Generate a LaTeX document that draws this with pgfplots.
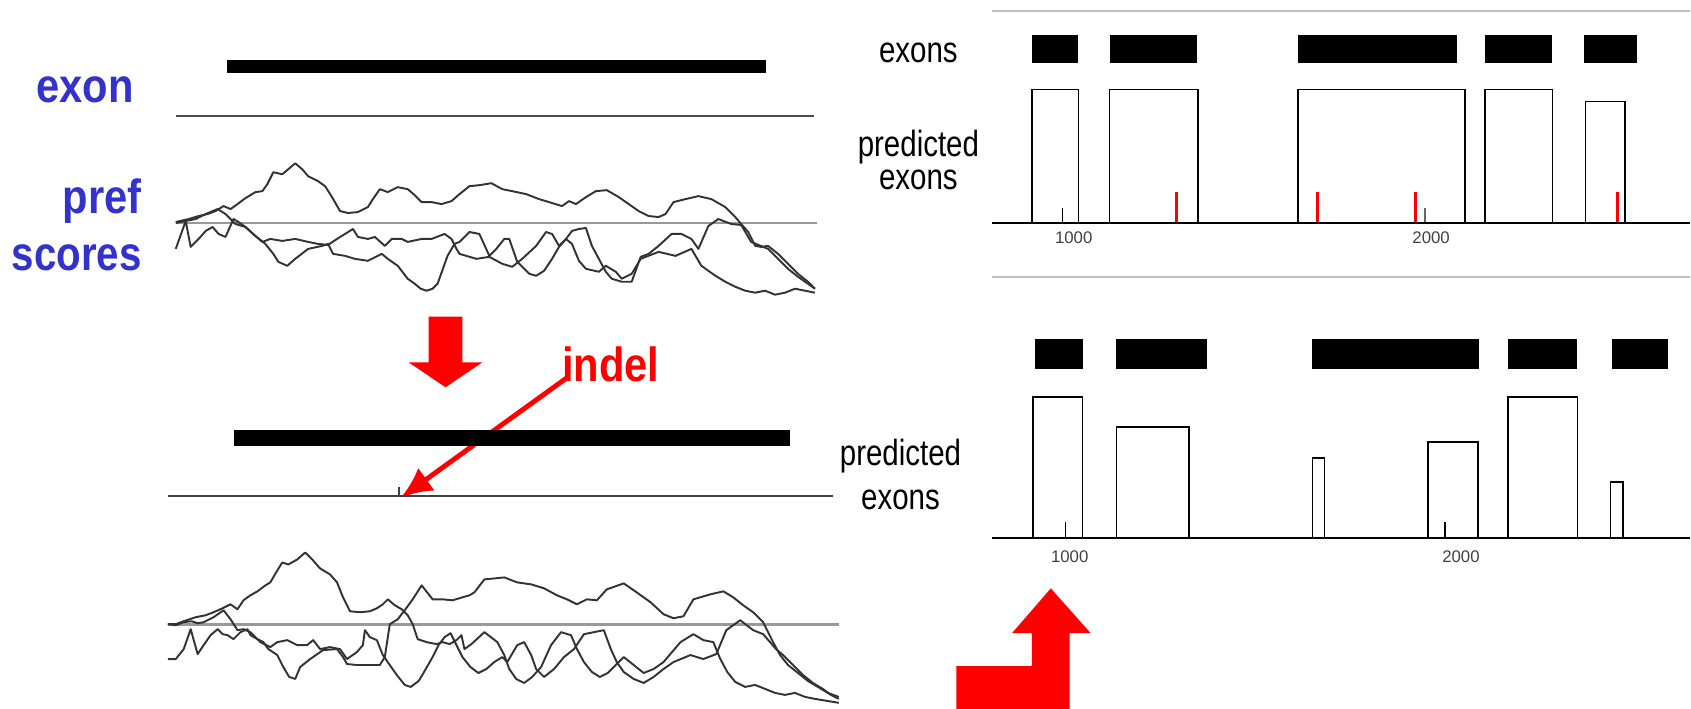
\documentclass[border=0pt]{standalone}
\usepackage{pgfplots}
\pgfplotsset{compat=1.18}
\usepackage{graphicx}
\usepackage{fontspec}
\setmainfont{Liberation Sans}
\usetikzlibrary{arrows.meta}
\definecolor{exblue}{RGB}{51,51,204}

\tikzset{
  curve/.style={black!80, line width=0.55pt, line join=round},
  slide/.style={font=\fontsize{13.7}{16}\selectfont\bfseries},
  small/.style={font=\fontsize{10.4}{12}\selectfont},
  ticklab/.style={font=\fontsize{4.8}{6}\selectfont, text=black!75},
}

% black exon bar: x1 x2 ytop ybottom
\newcommand{\exonbar}[4]{\addplot[fill=black, draw=none] coordinates {(#1,#3) (#2,#3) (#2,#4) (#1,#4)} -- cycle;}
% predicted exon box, open at the base line: x1 x2 top base
\newcommand{\predbox}[4]{\addplot[black, line width=0.45pt] coordinates {(#1,#4) (#1,#3) (#2,#3) (#2,#4)};}

\begin{document}
\begin{tikzpicture}
\begin{axis}[
    hide axis,
    scale only axis,
    width=16.91cm, height=7.12cm,
    xmin=0, xmax=1691, ymin=0, ymax=712,
    y dir=reverse,
    clip=false,
  ]
  % frame of the picture
  \addplot[draw=none] coordinates {(0,0) (1691,712)};

  % ---------- left, top panel ----------
  \exonbar{221}{763}{60}{73}
  \addplot[black!70, line width=0.6pt] coordinates {(170,116.5) (811,116.5)};
  \addplot[black!40, line width=0.8pt] coordinates {(170,224) (814,224)};

  \addplot[curve] coordinates {
    (170,223) (183,220) (193,217) (202,215) (210,212) (218,207) (225,210) (232,205)
    (240,199) (250,193) (257,192) (262,185) (268,173) (277,175) (283,170) (290,164)
    (297,170) (303,177) (313,182) (320,187) (327,198) (335,212) (343,214) (353,213)
    (363,208) (368,200) (375,190) (383,193) (393,188) (403,190) (410,196) (417,203)
    (427,203) (437,205) (447,202) (455,195) (465,187) (475,186) (487,184) (498,190)
    (508,192) (522,195) (535,200) (545,203) (558,207) (565,202) (572,205) (582,198)
    (592,192) (603,191) (615,198) (625,205) (635,212) (645,217) (655,218) (662,215)
    (670,203) (682,200) (695,197) (708,200) (722,208) (732,218) (738,225) (745,233)
    (752,247) (758,248) (765,247) (775,255) (785,265) (795,275) (805,283) (812,290)};
  \addplot[curve] coordinates {
    (170,250) (175,236) (180,222) (185,248) (193,240) (200,232) (207,228) (213,235)
    (220,238) (228,220) (233,223) (240,228) (250,237) (260,245) (268,255) (273,263)
    (282,267) (290,260) (303,250) (317,247) (323,245) (328,255) (340,257) (350,260)
    (363,262) (377,255) (383,260) (393,267) (403,280) (410,285) (416,290) (422,292)
    (428,290) (433,285) (443,257) (450,245) (455,243) (465,233) (475,235) (485,257)
    (492,250) (500,240) (505,240) (513,263) (525,275) (532,277) (540,272) (548,260)
    (555,248) (562,240) (568,232) (575,230) (582,229) (588,247) (595,260) (602,273)
    (608,280) (618,283) (628,283) (637,258) (645,255) (655,247) (668,235) (678,235)
    (688,240) (695,250) (705,227) (715,220) (728,225) (738,226) (748,243) (765,250)
    (775,260) (785,270) (795,278) (805,285) (812,290)};
  \addplot[curve] coordinates {
    (170,224) (180,222) (190,220) (200,215) (212,210) (220,215) (230,225) (240,228)
    (250,237) (257,243) (265,240) (277,242) (290,240) (303,243) (313,245) (323,246)
    (332,240) (348,230) (353,238) (363,240) (370,238) (380,247) (387,240) (397,240)
    (403,243) (417,240) (427,240) (440,235) (447,240) (452,250) (455,255) (472,260)
    (485,258) (498,265) (508,268) (518,260) (532,247) (542,233) (548,235) (555,247)
    (562,240) (568,245) (575,262) (582,270) (595,273) (602,267) (612,273) (618,280)
    (628,275) (637,260) (655,253) (672,257) (688,250) (698,267) (712,277) (722,283)
    (732,288) (742,292) (752,294) (762,292) (772,296) (782,294) (792,290) (802,292)
    (812,294)};

  \node[slide, text=exblue, anchor=base] at (79,103) {\scalebox{0.87}[1]{exon}};
  \node[slide, text=exblue, anchor=base east] at (148,214) {\scalebox{0.87}[1]{pref}};
  \node[slide, text=exblue, anchor=base east] at (148,272) {\scalebox{0.84}[1]{scores}};

  % ---------- red arrows, indel ----------
  \addplot[fill=red, draw=none] coordinates {
    (424,318) (458,318) (458,364) (478,364) (441,389) (404,364) (424,364)} -- cycle;
  \node[slide, text=red, anchor=base] at (607,383) {\scalebox{0.87}[1]{indel}};
  \addplot[red, line width=1.4pt, -{Latex[length=9pt, width=8pt]}] coordinates {(565,378) (396,500)};

  % ---------- left, bottom panel ----------
  \exonbar{229}{787}{432}{448}
  \addplot[black!75, line width=0.6pt] coordinates {(162,498) (830,498)};
  \addplot[black!75, line width=0.5pt] coordinates {(394,489) (394,498)};
  \addplot[black!40, line width=0.8pt] coordinates {(162,627) (836,627)};

  \addplot[curve] coordinates {
    (162,627) (170,627) (178,624) (190,620) (200,618) (208,615) (217,611) (225,607)
    (232,612) (238,603) (245,598) (252,594) (260,588) (265,585) (272,573) (277,565)
    (283,567) (292,562) (300,555) (308,563) (315,571) (325,577) (332,585) (338,600)
    (345,614) (355,615) (365,614) (372,611) (378,607) (383,602) (390,608) (397,612)
    (403,618) (408,627) (413,642) (422,645) (432,647) (438,645) (445,647) (452,643)
    (457,638) (460,652) (467,647) (480,635) (493,645) (500,658) (505,672) (512,682)
    (520,686) (528,680) (537,670) (547,648) (557,635) (567,638) (573,652) (580,665)
    (588,675) (596,680) (604,676) (612,668) (620,660) (630,668) (640,676) (650,672)
    (660,665) (677,645) (690,637) (700,643) (710,645) (717,662) (724,675) (732,685)
    (742,690) (752,688) (762,692) (772,696) (782,698) (792,696) (802,700) (812,702)
    (824,704) (836,706)};
  \addplot[curve] coordinates {
    (162,662) (170,662) (178,652) (185,632) (192,657) (198,648) (205,638) (212,632)
    (217,637) (222,638) (228,642) (235,635) (242,632) (245,638) (252,642) (258,645)
    (263,652) (272,658) (278,670) (284,680) (290,682) (295,670) (305,662) (318,653)
    (332,652) (338,660) (342,667) (352,668) (365,668) (375,668) (380,660) (385,627)
    (393,622) (400,613) (408,602) (417,588) (428,602) (438,602) (448,603) (458,600)
    (465,598) (470,595) (480,582) (500,580) (513,585) (527,587) (540,591) (553,598)
    (563,602) (573,607) (583,602) (593,603) (603,592) (620,586) (633,595) (647,605)
    (660,617) (670,621) (680,619) (690,602) (707,597) (720,594) (730,600) (740,608)
    (750,615) (760,625) (770,645) (777,658) (785,668) (795,676) (805,684) (815,690)
    (825,696) (836,700)};
  \addplot[curve] coordinates {
    (162,627) (170,628) (178,625) (186,624) (192,626) (198,625) (208,620) (218,613)
    (225,622) (232,633) (238,632) (245,635) (255,645) (265,650) (272,645) (282,643)
    (292,648) (302,648) (308,643) (315,652) (325,650) (335,652) (342,662) (352,655)
    (358,648) (360,633) (365,640) (372,643) (378,658) (385,668) (392,678) (400,688)
    (406,690) (414,684) (420,674) (428,660) (434,648) (440,640) (446,636) (452,648)
    (458,660) (466,670) (474,676) (482,672) (490,665) (498,660) (503,665) (513,648)
    (520,645) (527,658) (532,672) (540,680) (550,672) (560,660) (570,652) (580,637)
    (590,635) (600,633) (607,652) (613,665) (620,675) (630,682) (640,686) (650,680)
    (660,672) (670,665) (687,658) (700,662) (713,657) (723,633) (737,623) (750,633)
    (760,637) (773,652) (780,658) (790,668) (800,678) (810,686) (820,692) (828,698)
    (836,702)};

  % ---------- right, top panel ----------
  \addplot[black!25, line width=0.5pt] coordinates {(990,11) (1691,11)};
  \exonbar{1030}{1076}{35}{63}
  \exonbar{1108}{1196}{35}{63}
  \exonbar{1297}{1457}{35}{63}
  \exonbar{1485}{1552}{35}{63}
  \exonbar{1585}{1638}{35}{63}
  \predbox{1030}{1077}{90}{224}
  \predbox{1108}{1197}{90}{224}
  \predbox{1297}{1465}{90}{224}
  \predbox{1485}{1553}{90}{224}
  \predbox{1586}{1626}{102}{224}
  \addplot[black, line width=0.4pt] coordinates {(1061,209) (1061,224)};
  \addplot[black!60, line width=0.4pt] coordinates {(1425,209) (1425,224)};
  \addplot[red, line width=0.9pt] coordinates {(1175,193) (1175,224)};
  \addplot[red, line width=0.9pt] coordinates {(1317,193) (1317,224)};
  \addplot[red, line width=0.9pt] coordinates {(1415,193) (1415,224)};
  \addplot[red, line width=0.9pt] coordinates {(1618,193) (1618,224)};
  \addplot[black, line width=0.6pt] coordinates {(990,224) (1691,224)};
  \node[ticklab] at (1072,239) {1000};
  \node[ticklab] at (1431,239) {2000};
  \node[small, anchor=base] at (916,63) {\scalebox{0.81}[1]{exons}};
  \node[small, anchor=base] at (916,157) {\scalebox{0.81}[1]{predicted}};
  \node[small, anchor=base] at (916,190) {\scalebox{0.81}[1]{exons}};

  % ---------- right, bottom panel ----------
  \addplot[black!25, line width=0.5pt] coordinates {(990,278) (1691,278)};
  \exonbar{1033}{1081}{341}{371}
  \exonbar{1114}{1206}{341}{371}
  \exonbar{1311}{1479}{341}{371}
  \exonbar{1508}{1578}{341}{371}
  \exonbar{1613}{1669}{341}{371}
  \predbox{1031}{1081}{399}{540}
  \predbox{1115}{1188}{429}{540}
  \predbox{1312}{1324}{460}{540}
  \predbox{1428}{1478}{444}{540}
  \predbox{1508}{1578}{399}{540}
  \predbox{1611}{1624}{484}{540}
  \addplot[black, line width=0.4pt] coordinates {(1064,524) (1064,540)};
  \addplot[black, line width=0.6pt] coordinates {(1445,524) (1445,540)};
  \addplot[black, line width=0.6pt] coordinates {(990,540) (1691,540)};
  \node[ticklab] at (1068,559) {1000};
  \node[ticklab] at (1461,559) {2000};
  \node[small, anchor=base] at (898,468) {\scalebox{0.81}[1]{predicted}};
  \node[small, anchor=base] at (898,512) {\scalebox{0.81}[1]{exons}};

  % ---------- red L arrow ----------
  \addplot[fill=red, draw=none] coordinates {
    (954,712) (954,669) (1030,669) (1030,636) (1010,636) (1049,591)
    (1089,636) (1068,636) (1068,712)} -- cycle;
\end{axis}
\end{tikzpicture}
\end{document}
